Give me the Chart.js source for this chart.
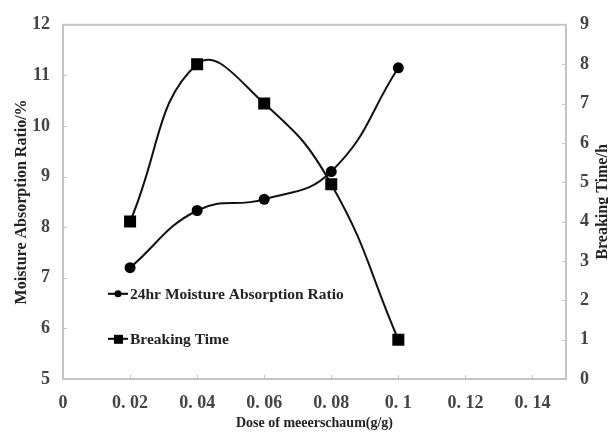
<!DOCTYPE html>
<html>
<head>
<meta charset="utf-8">
<script src="https://cdn.jsdelivr.net/npm/chart.js@4"></script>
<style>
  html,body{margin:0;padding:0;background:#fff;}
  #wrap{width:608px;height:435px;}
</style>
</head>
<body>
<div id="wrap"><canvas id="c"></canvas></div>
<script>
// data
const doses=[0.02,0.04,0.06,0.08,0.1];
const moisture=[7.2,8.33,8.55,9.1,11.15];   // %  (left axis)
const breaking=[4,8,7,4.95,1];               // h  (right axis)
const xTicks=[0,0.02,0.04,0.06,0.08,0.1,0.12,0.14];
const labels=['24hr Moisture Absorption Ratio','Breaking Time'];
const xTitle='Dose of meeerschaum(g/g)';
const yTitle='Moisture Absorption Ratio/%';
const y1Title='Breaking Time/h';

const serif='"Liberation Serif","Times New Roman",serif';
const tickFont={family:serif,size:18,weight:'bold'};
const tickCol='#444';
const boxCol='#c4c4c4';

// frame + inward tick marks + legend inside the plot
const framePlugin={
  id:'frame',
  afterDraw(chart){
    const {ctx,chartArea:a,scales}=chart;
    ctx.save();
    ctx.strokeStyle=boxCol;ctx.lineWidth=2;
    ctx.strokeRect(a.left,a.top,a.right-a.left,a.bottom-a.top);
    ctx.lineWidth=1;ctx.beginPath();
    scales.x.ticks.forEach(t=>{
      if(t.value<=0)return;
      const px=Math.round(scales.x.getPixelForValue(t.value))+.5;
      ctx.moveTo(px,a.bottom);ctx.lineTo(px,a.bottom-4);
    });
    scales.y.ticks.forEach(t=>{
      if(t.value<=5||t.value>=12)return;
      const py=Math.round(scales.y.getPixelForValue(t.value))+.5;
      ctx.moveTo(a.left,py);ctx.lineTo(a.left+4,py);
    });
    scales.y1.ticks.forEach(t=>{
      if(t.value<=0||t.value>=9)return;
      const py=Math.round(scales.y1.getPixelForValue(t.value))+.5;
      ctx.moveTo(a.right,py);ctx.lineTo(a.right-4,py);
    });
    ctx.stroke();

    // right axis title, read bottom-to-top like the left one
    ctx.fillStyle='#222';
    ctx.font='bold 16px '+serif;
    ctx.textAlign='center';ctx.textBaseline='middle';
    ctx.translate(603,(a.top+a.bottom)/2);
    ctx.rotate(-Math.PI/2);
    ctx.fillText(y1Title,0,0);
    ctx.restore();

    // legend
    ctx.save();
    const lx=a.left+45;
    const rows=[{y:a.top+269,ds:chart.data.datasets[0]},{y:a.top+314,ds:chart.data.datasets[1]}];
    rows.forEach(r=>{
      ctx.strokeStyle='#000';ctx.lineWidth=2;
      ctx.beginPath();ctx.moveTo(lx,r.y);ctx.lineTo(lx+20,r.y);ctx.stroke();
      ctx.fillStyle='#000';
      if(r.ds.pointStyle==='rect'){ctx.fillRect(lx+6,r.y-4,9,9);}
      else{ctx.beginPath();ctx.arc(lx+10,r.y,3.5,0,Math.PI*2);ctx.fill();}
      ctx.fillStyle='#222';ctx.font='bold 15.5px '+serif;
      ctx.textAlign='left';ctx.textBaseline='middle';
      ctx.fillText(r.ds.label,lx+22,r.y+1);
    });
    ctx.restore();
  }
};

new Chart(document.getElementById('c'),{
  type:'line',
  data:{datasets:[
    {label:labels[0],data:doses.map((d,i)=>({x:d,y:moisture[i]})),yAxisID:'y',
      borderColor:'#111',backgroundColor:'#000',borderWidth:2,tension:0.45,
      pointStyle:'circle',pointRadius:5.5,pointBorderWidth:0},
    {label:labels[1],data:doses.map((d,i)=>({x:d,y:breaking[i]})),yAxisID:'y1',
      borderColor:'#111',backgroundColor:'#000',borderWidth:2,tension:0.45,
      pointStyle:'rect',pointRadius:8.5,pointBorderWidth:0}
  ]},
  options:{
    responsive:true,maintainAspectRatio:false,animation:false,
    layout:{padding:0},
    plugins:{legend:{display:false},tooltip:{enabled:false}},
    scales:{
      x:{type:'linear',min:0,max:0.15,
        afterBuildTicks:s=>{s.ticks=xTicks.map(v=>({value:v}));},
        afterFit:s=>{s.height=56;},
        ticks:{autoSkip:false,maxRotation:0,padding:14,color:tickCol,font:tickFont,
          callback:v=>v===0?'0':String(+v.toFixed(2)).replace('.','. ')},
        grid:{display:false,drawTicks:false},border:{display:false},
        title:{display:true,text:xTitle,color:'#222',font:{family:serif,size:14,weight:'bold'},padding:{top:0,bottom:3}}},
      y:{position:'left',min:5,max:12,
        afterFit:s=>{s.width=63;},
        ticks:{stepSize:1,padding:13,color:tickCol,font:tickFont},
        grid:{display:false,drawTicks:false},border:{display:false},
        title:{display:true,text:yTitle,color:'#222',font:{family:serif,size:16,weight:'bold'},padding:{top:12,bottom:0}}},
      y1:{position:'right',min:0,max:9,
        afterFit:s=>{s.width=42;},
        ticks:{stepSize:1,padding:14,color:tickCol,font:tickFont},
        grid:{display:false,drawTicks:false},border:{display:false}}
    }
  },
  plugins:[framePlugin]
});
</script>
</body>
</html>
